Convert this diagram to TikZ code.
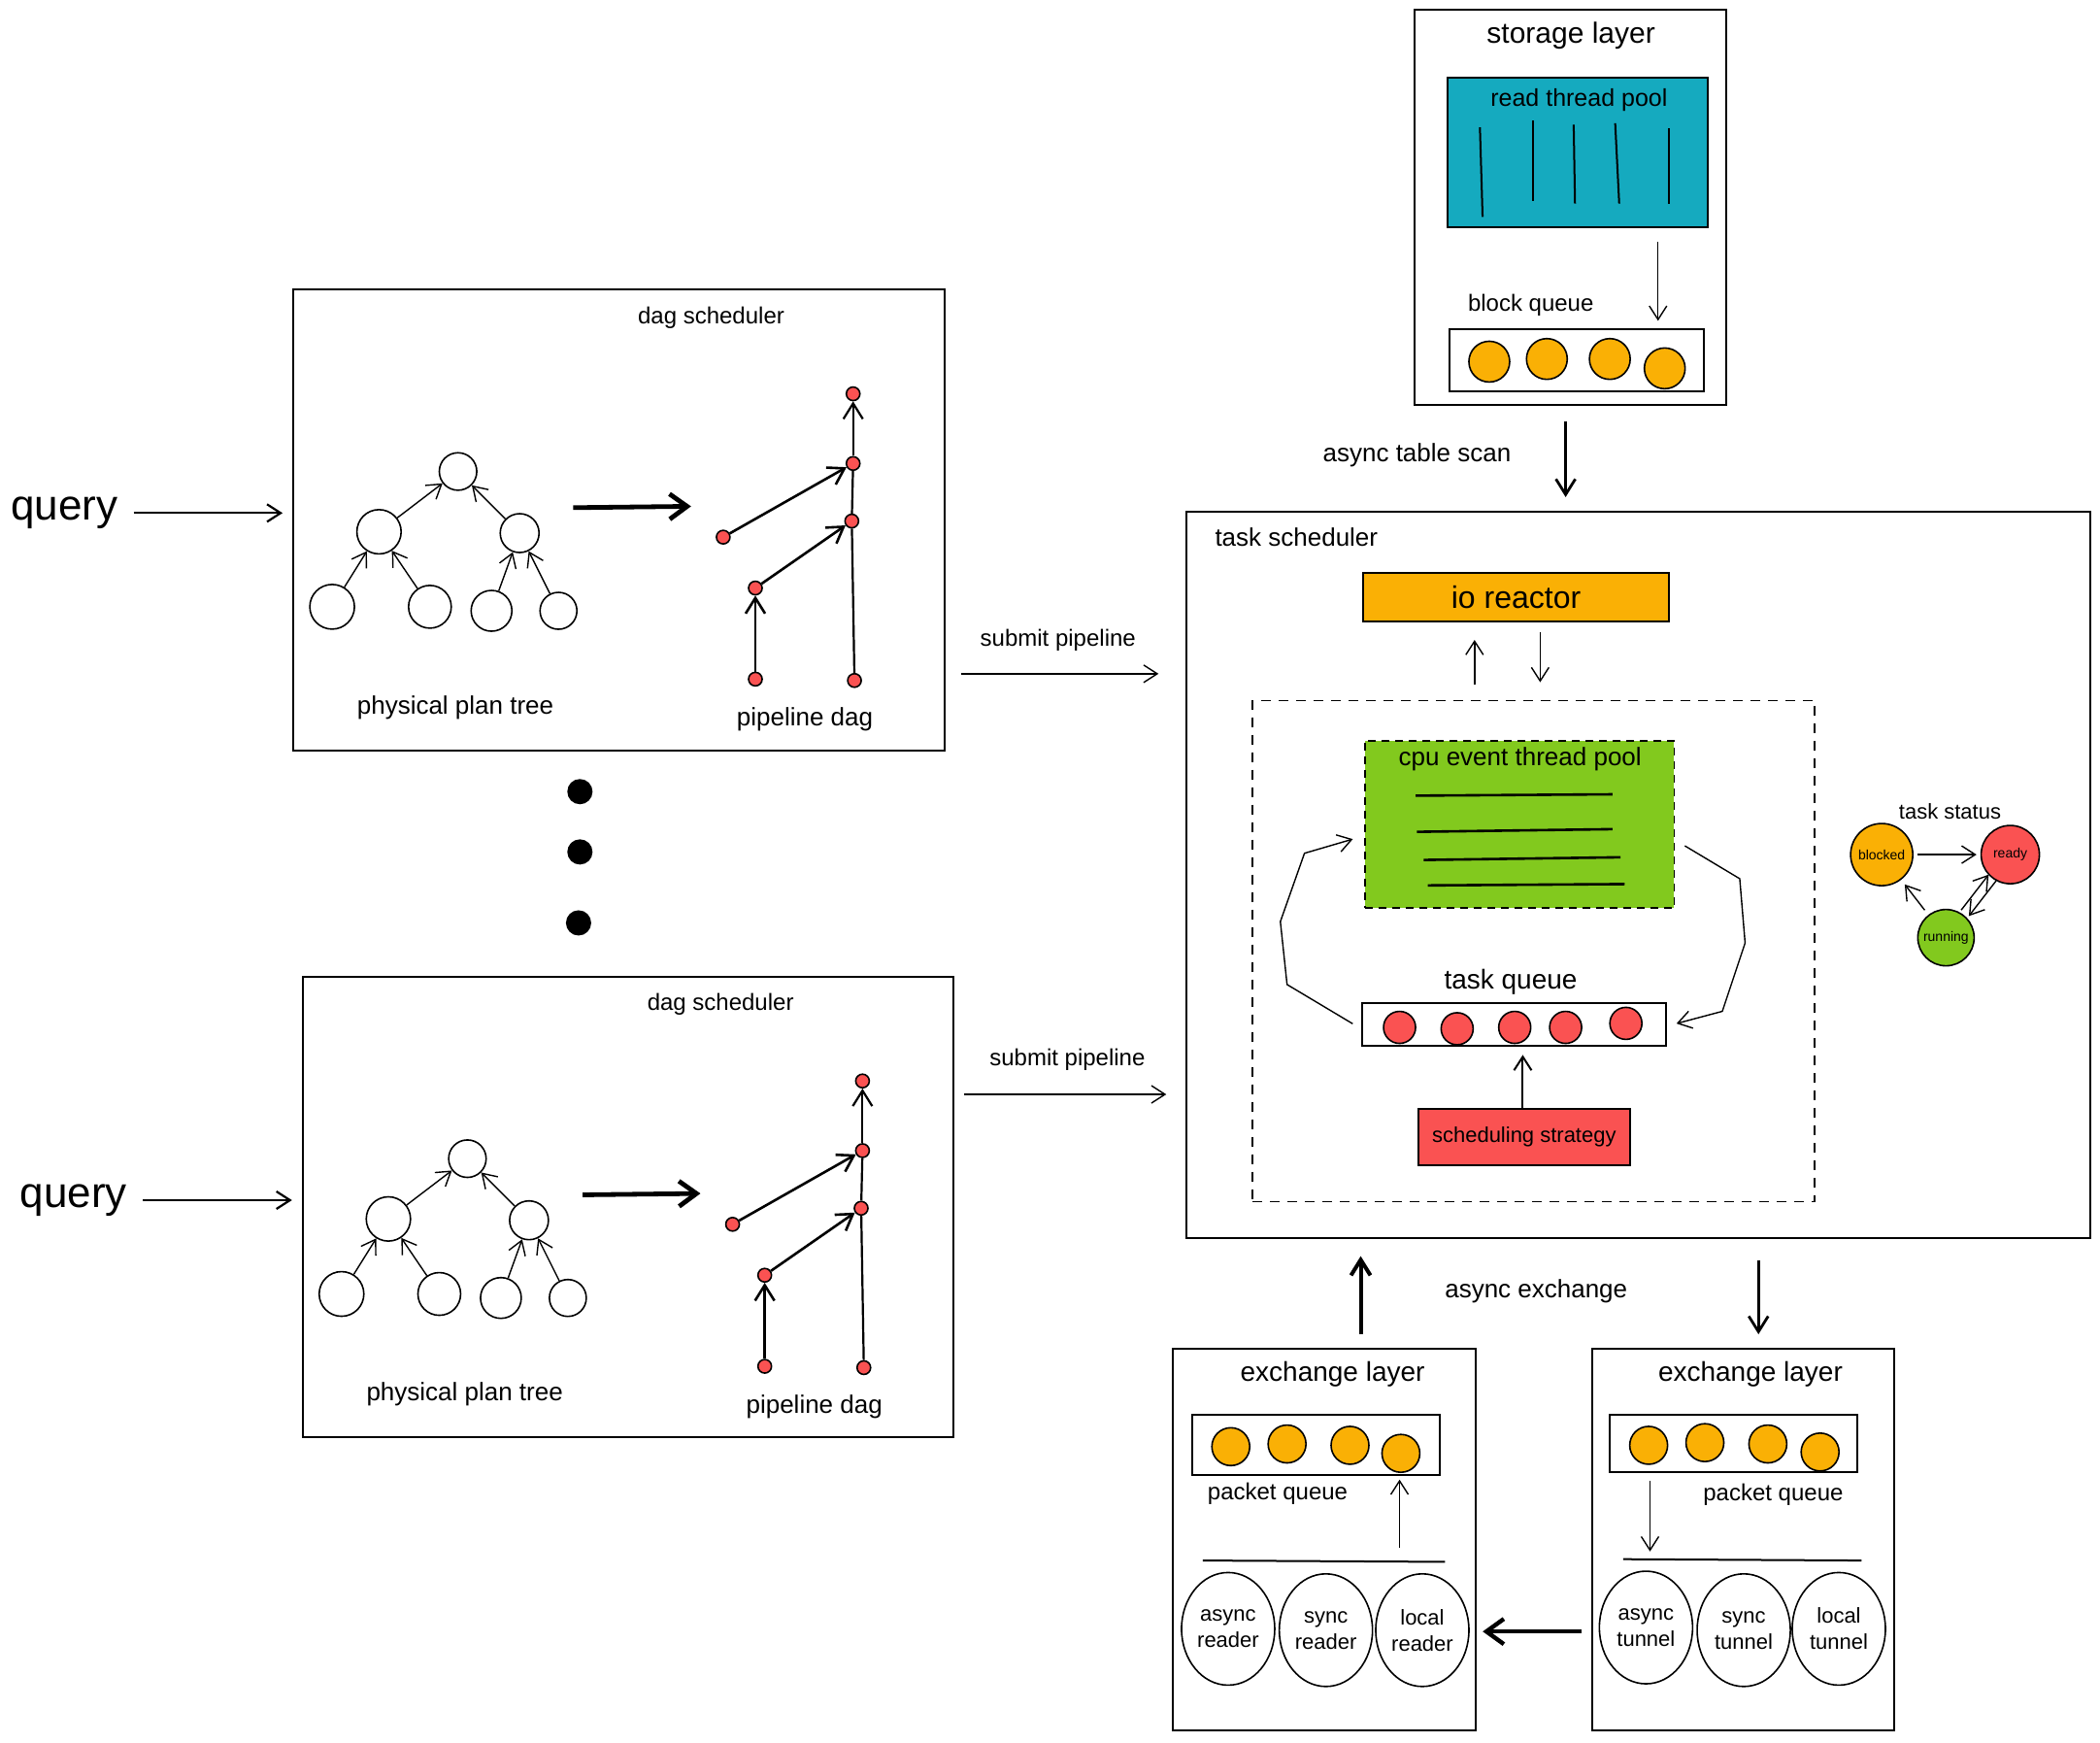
\documentclass[tikz,border=0pt]{standalone}
\usepackage{fontspec}
\setmainfont{Liberation Sans}
\usetikzlibrary{arrows.meta,calc,shapes.geometric}
\definecolor{xteal}{HTML}{15AABF}
\definecolor{xorange}{HTML}{FAB005}
\definecolor{xgreen}{HTML}{82C91E}
\definecolor{xred}{HTML}{FA5252}
\newcommand{\dagpanel}[2]{%
\begin{scope}[shift={#2}]
\node[box, minimum width=335.2pt, minimum height=237.3pt] (#1box) at (462,388) {};
\node[lbl=22] (#1q) at (48,383) {query};
\draw[arr, line width=1.1pt, shorten <=7pt, shorten >=5pt] (#1q.east) -- (#1box.west |- #1q.east);
\node[lbl=12] (#1title) at (531,237) {dag scheduler};
% physical plan tree
\node[tc, minimum size=19.3pt] (#1r) at (342,352) {};
\node[tc, minimum size=22.8pt] (#1a) at (283,397) {};
\node[tc, minimum size=20pt] (#1b) at (388,398) {};
\node[tc, minimum size=23pt] (#1c) at (248,453) {};
\node[tc, minimum size=22pt] (#1d) at (321,453) {};
\node[tc, minimum size=21pt] (#1e) at (367,456) {};
\node[tc, minimum size=19pt] (#1f) at (417,456) {};
\draw[arr] (#1a) -- (#1r);
\draw[arr] (#1b) -- (#1r);
\draw[arr] (#1c) -- (#1a);
\draw[arr] (#1d) -- (#1a);
\draw[arr] (#1e) -- (#1b);
\draw[arr] (#1f) -- (#1b);
\node[lbl=13] (#1ppt) at (340,528) {physical plan tree};
% transform arrow
\coordinate (#1ts) at (428,379);
\coordinate (#1te) at (516,378);
\draw[bigarr] (#1ts) -- (#1te);
% pipeline dag
\node[pd] (#1p1) at (637,294) {};
\node[pd] (#1p2) at (637,346) {};
\node[pd] (#1p3) at (636,389) {};
\node[pd] (#1p4) at (540,401) {};
\node[pd] (#1p5) at (564,439) {};
\node[pd] (#1p6) at (564,507) {};
\node[pd] (#1p7) at (638,508) {};
\draw[darr] (#1p4) -- (#1p2);
\draw[darr] (#1p5) -- (#1p3);
\draw[darr] (#1p6) -- (#1p5);
\draw[line width=1.1pt] (#1p7) -- (#1p3) -- (#1p2);
\draw[darr, line width=1.1pt] (#1p2) -- (#1p1);
\node[lbl=13] (#1pd) at (601,537) {pipeline dag};
\end{scope}}
\begin{document}
\begin{tikzpicture}[x=0.6897pt, y=-0.6897pt,
  box/.style={draw, line width=1pt, inner sep=0pt},
  lbl/.style={inner sep=1pt, font=\fontsize{#1}{#1}\selectfont},
  lbl/.default=12,
  arr/.style={-{Straight Barb[length=7pt,width=9pt]}, line width=0.7pt},
  darr/.style={-{Straight Barb[length=8pt,width=10pt]}, line width=1.3pt},
  bigarr/.style={-{Straight Barb[length=9pt,width=13pt]}, line width=2.4pt},
  medarr/.style={-{Straight Barb[length=8pt,width=10pt]}, line width=1.4pt},
  tc/.style={circle, draw, line width=0.8pt, inner sep=0pt},
  pd/.style={circle, draw, line width=0.8pt, fill=xred, inner sep=0pt, minimum size=7pt},
  bead/.style={circle, draw, line width=0.8pt, fill=#1, inner sep=0pt},
  ell/.style={ellipse, draw, line width=0.8pt, inner sep=0pt, minimum width=48pt, minimum height=58pt, align=center, font=\fontsize{11}{13.5}\selectfont},
  stat/.style={circle, draw, line width=0.8pt, fill=#1, inner sep=0pt, font=\fontsize{7}{7}\selectfont},
  bigdot/.style={circle, fill=black, inner sep=0pt, minimum size=13pt}
]
\useasboundingbox (0,0) rectangle (1568,1301);

\dagpanel{A}{(0,0)}
\dagpanel{B}{(7,513)}

% ellipsis dots
\node[bigdot] (dot1) at (433,591) {};
\node[bigdot] (dot2) at (433,636) {};
\node[bigdot] (dot3) at (432,689) {};

% task scheduler
\node[box, minimum width=465.5pt, minimum height=373.8pt] (task) at (1223.5,653) {};
\node[lbl=13] (tasktitle) at (968,401) {task scheduler};

% submit pipeline arrows
\coordinate (s1y) at (0,503);
\coordinate (s2y) at (0,817);
\node[lbl=12] (sub1) at (790,478) {submit pipeline};
\node[lbl=12] (sub2) at (797,791) {submit pipeline};
\draw[arr, shorten <=8pt, shorten >=14pt] (Abox.east |- s1y) -- (task.west |- s1y);
\draw[arr, shorten <=5pt, shorten >=10pt] (Bbox.east |- s2y) -- (task.west |- s2y);

% storage layer
\node[box, minimum width=160.7pt, minimum height=203.5pt] (storage) at (1172.5,154.5) {};
\node[lbl=15] (stitle) at (1173,27) {storage layer};
\node[box, fill=xteal, minimum width=133.8pt, minimum height=77.2pt] (rpool) at (1178,114) {};
\node[lbl=12.5] (rptitle) at (1179,75) {read thread pool};
\draw[line width=1pt] (1105,95) -- (1107,162);
\draw[line width=1pt] (1145,90) -- (1145,150);
\draw[line width=1pt] (1175,93) -- (1176,152);
\draw[line width=1pt] (1206,92) -- (1209,152);
\draw[line width=1pt] (1246,96) -- (1246,152);
\node[lbl=12] (bqlabel) at (1143,228) {block queue};
\node[box, minimum width=131pt, minimum height=31.7pt] (bq) at (1177,269) {};
\node[bead=xorange, minimum size=21pt] (bq1) at (1112,270) {};
\node[bead=xorange, minimum size=21pt] (bq2) at (1155,268) {};
\node[bead=xorange, minimum size=21pt] (bq3) at (1202,268) {};
\node[bead=xorange, minimum size=21pt] (bq4) at (1243,275) {};
\coordinate (rpx) at (1238,0);
\draw[arr, shorten <=7pt, shorten >=4pt] (rpool.south -| rpx) -- (bq.north -| rpx);

% async table scan
\node[lbl=13] (atscan) at (1058,340) {async table scan};
\coordinate (scx) at (1169,0);
\draw[medarr, shorten <=8pt, shorten >=7pt] (storage.south -| scx) -- (task.north -| scx);

% io reactor
\node[box, fill=xorange, minimum width=157.3pt, minimum height=24.8pt, font=\fontsize{16}{16}\selectfont] (io) at (1132,446) {io reactor};

% dashed region
\node[draw, dashed, line width=0.8pt, dash pattern=on 5pt off 4pt, minimum width=289.7pt, minimum height=258pt, inner sep=0pt] (core) at (1145,710) {};
\coordinate (iox1) at (1101,0);
\coordinate (iox2) at (1150,0);
\draw[arr, shorten <=8pt, shorten >=9pt] (core.north -| iox1) -- (io.south -| iox1);
\draw[arr, shorten <=5pt, shorten >=9pt] (io.south -| iox2) -- (core.north -| iox2);

% cpu event thread pool
\node[draw, dashed, dash pattern=on 4pt off 3pt, line width=0.8pt, fill=xgreen, minimum width=159.3pt, minimum height=86.2pt, inner sep=0pt] (cpu) at (1134.5,615.5) {};
\node[lbl=13] (cputitle) at (1135,567) {cpu event thread pool};
\draw[line width=1.3pt] (1057,594) -- (1204,593);
\draw[line width=1.3pt] (1058,621) -- (1204,619);
\draw[line width=1.3pt] (1063,642) -- (1210,640);
\draw[line width=1.3pt] (1066,661) -- (1213,660);

% task queue
\node[lbl=14] (tqlabel) at (1128,733) {task queue};
\node[box, minimum width=156.6pt, minimum height=22.1pt] (tq) at (1130.5,765) {};
\node[bead=xred, minimum size=16.5pt] (tq1) at (1045,767) {};
\node[bead=xred, minimum size=16.5pt] (tq2) at (1088,768) {};
\node[bead=xred, minimum size=16.5pt] (tq3) at (1131,767) {};
\node[bead=xred, minimum size=16.5pt] (tq4) at (1169,767) {};
\node[bead=xred, minimum size=16.5pt] (tq5) at (1214,764) {};

% scheduling strategy
\node[box, fill=xred, minimum width=109pt, minimum height=29pt, font=\fontsize{11}{11}\selectfont] (sched) at (1138,849) {scheduling strategy};
\coordinate (schx) at (1137,0);
\draw[arr, line width=1pt, shorten <=0pt, shorten >=4pt] (sched.north -| schx) -- (tq.south -| schx);

% loops
\coordinate (l1) at (961,735);
\coordinate (l2) at (956,688);
\coordinate (l3) at (974,637);
\coordinate (ly1) at (0,768);
\coordinate (ly2) at (0,624);
\draw[arr, shorten <=5pt, shorten >=6pt] (tq.west |- ly1) -- (l1) -- (l2) -- (l3) -- (cpu.west |- ly2);
\coordinate (r1) at (1299,656);
\coordinate (r2) at (1303,704);
\coordinate (r3) at (1286,755);
\coordinate (ry1) at (0,627);
\coordinate (ry2) at (0,766);
\draw[arr, shorten <=6pt, shorten >=5pt] (cpu.east |- ry1) -- (r1) -- (r2) -- (r3) -- (tq.east |- ry2);

% task status
\node[lbl=11] (tslabel) at (1456,606) {task status};
\node[stat=xorange, minimum size=32pt] (blk) at (1405,638) {blocked};
\node[stat=xred, minimum size=30pt] (rdy) at (1501,638) {ready};
\node[stat=xgreen, minimum size=29pt] (run) at (1453,700) {running};
\draw[arr, shorten <=2pt, shorten >=2pt] (blk) -- (rdy);
\draw[arr, shorten <=3pt, shorten >=3pt] (run) -- (blk);
\draw[arr, shorten <=16pt, shorten >=15pt] ($(run)!2.5pt!90:(rdy)$) -- ($(rdy)!2.5pt!-90:(run)$);
\draw[arr, shorten <=15pt, shorten >=16pt] ($(rdy)!2.5pt!90:(run)$) -- ($(run)!2.5pt!-90:(rdy)$);

% exchange layers
\node[box, minimum width=155.9pt, minimum height=196.6pt] (ex1) at (989,1149.5) {};
\node[box, minimum width=155.2pt, minimum height=196.6pt] (ex2) at (1301.5,1149.5) {};
\node[lbl=14] (ex1title) at (995,1026) {exchange layer};
\node[lbl=14] (ex2title) at (1307,1026) {exchange layer};
\node[lbl=13] (aex) at (1147,964) {async exchange};
\coordinate (aex1) at (1016,0);
\coordinate (aex2) at (1313,0);
\draw[medarr, line width=2pt, shorten <=7pt, shorten >=9pt] (ex1.north -| aex1) -- (task.south -| aex1);
\draw[medarr, shorten <=11pt, shorten >=7pt] (task.south -| aex2) -- (ex2.north -| aex2);

\node[box, minimum width=127.6pt, minimum height=31pt] (pq1) at (982.5,1078.5) {};
\node[bead=xorange, minimum size=19.5pt] (pa1) at (919,1080) {};
\node[bead=xorange, minimum size=19.5pt] (pa2) at (961,1078) {};
\node[bead=xorange, minimum size=19.5pt] (pa3) at (1008,1079) {};
\node[bead=xorange, minimum size=19.5pt] (pa4) at (1046,1085) {};
\node[lbl=12] (pq1label) at (954,1115) {packet queue};
\node[box, minimum width=127.6pt, minimum height=29.7pt] (pq2) at (1294.5,1077.5) {};
\node[bead=xorange, minimum size=19.5pt] (pb1) at (1231,1079) {};
\node[bead=xorange, minimum size=19.5pt] (pb2) at (1273,1077) {};
\node[bead=xorange, minimum size=19.5pt] (pb3) at (1320,1078) {};
\node[bead=xorange, minimum size=19.5pt] (pb4) at (1359,1084) {};
\node[lbl=12] (pq2label) at (1324,1116) {packet queue};

\coordinate (sep1a) at (898,1165);
\coordinate (sep1b) at (1079,1166);
\coordinate (sep2a) at (1212,1164);
\coordinate (sep2b) at (1390,1165);
\draw[line width=1pt] (sep1a) -- (sep1b);
\draw[line width=1pt] (sep2a) -- (sep2b);
\coordinate (pqx1) at (1045,0);
\coordinate (pqx2) at (1232,0);
\draw[arr, shorten <=4pt, shorten >=2pt] (sep1b -| pqx1) ++(0,-5) -- (pq1.south -| pqx1);
\draw[arr, shorten <=4pt, shorten >=4pt] (pq2.south -| pqx2) -- (sep2a -| pqx2);

\node[ell] (ar) at (917,1216) {async\\reader};
\node[ell] (sr) at (990,1217) {sync\\reader};
\node[ell] (lr) at (1062,1217) {local\\reader};
\node[ell] (at) at (1229,1215) {async\\tunnel};
\node[ell] (st) at (1302,1217) {sync\\tunnel};
\node[ell] (lt) at (1373,1216) {local\\tunnel};
\coordinate (exy) at (0,1218);
\draw[bigarr, line width=2.2pt, shorten <=5pt, shorten >=3pt] (ex2.west |- exy) -- (ex1.east |- exy);
\end{tikzpicture}
\end{document}
